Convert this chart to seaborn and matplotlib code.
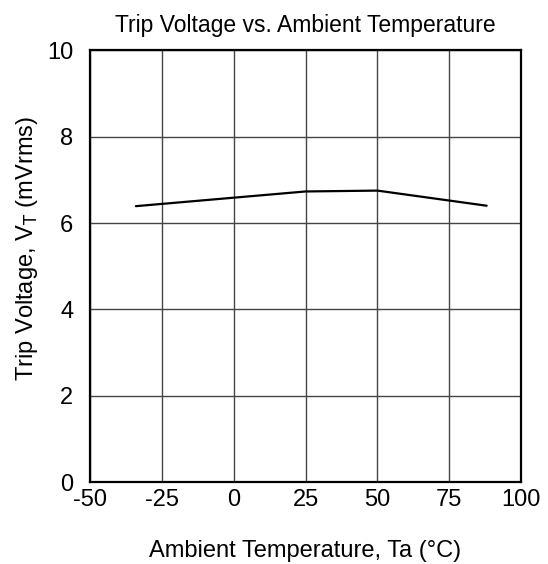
import pandas as pd
import seaborn as sns
import matplotlib.pyplot as plt

# values
temperature = [-34, 25, 50, 88]
trip_voltage = [6.39, 6.73, 6.75, 6.40]

x_ticks = [-50, -25, 0, 25, 50, 75, 100]
y_ticks = [0, 2, 4, 6, 8, 10]

sns.set_theme(style="white")
plt.rcParams['font.family'] = ['Liberation Sans', 'DejaVu Sans']
plt.rcParams['axes.unicode_minus'] = False
plt.rcParams['text.color'] = 'black'
plt.rcParams['axes.labelcolor'] = 'black'

df = pd.DataFrame({'temp': temperature, 'vt': trip_voltage})

fig = plt.figure(figsize=(5.48, 5.64), dpi=100)
ax = fig.add_axes([0.164, 0.145, 0.787, 0.766])

sns.lineplot(data=df, x='temp', y='vt', color='black', linewidth=1.6, ax=ax)

ax.set_xlim(-50, 100)
ax.set_ylim(0, 10)
ax.set_xticks(x_ticks)
ax.set_yticks(y_ticks)
ax.grid(True, color='#444444', linewidth=1.0)
ax.set_axisbelow(True)
for side in ax.spines.values():
    side.set_color('black')
    side.set_linewidth(1.6)
ax.tick_params(axis='both', length=0, labelsize=17, colors='black')
ax.tick_params(axis='x', pad=5)
ax.tick_params(axis='y', pad=12)

ax.set_title('Trip Voltage vs. Ambient Temperature', fontsize=16.5, pad=13, color='black')
ax.set_xlabel('Ambient Temperature, Ta (°C)', fontsize=17, labelpad=21, color='black')
ax.set_ylabel('Trip Voltage, V$_\\mathrm{T}$ (mVrms)', fontsize=17, color='black')
ax.yaxis.set_label_coords(-0.115, 0.54)

fig.savefig('out.png', dpi=100)
